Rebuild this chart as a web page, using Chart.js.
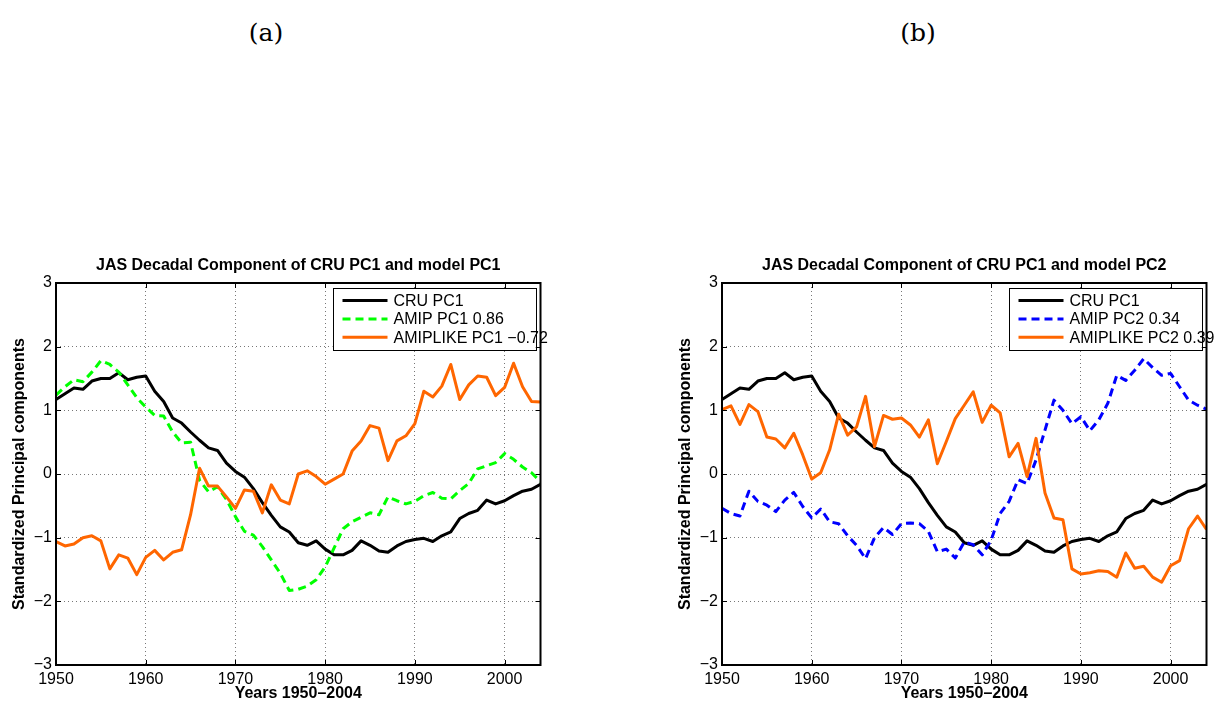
<!DOCTYPE html>
<html>
<head>
<meta charset="utf-8">
<script src="https://cdn.jsdelivr.net/npm/chart.js@4.4.1/dist/chart.umd.min.js"></script>
<style>
  html, body { margin: 0; padding: 0; background: #fff; }
  body { width: 1217px; height: 704px; position: relative; overflow: hidden; }
  .tag { position: absolute; width: 100px; text-align: center; font-family: "DejaVu Serif", "Liberation Serif", serif; font-size: 25px; line-height: 30px; color: #000; }
  canvas { position: absolute; }
</style>
</head>
<body>
<div class="tag" style="left:216px; top:18px;">(a)</div>
<div class="tag" style="left:868px; top:18px;">(b)</div>
<canvas id="panelA" width="600" height="454" style="left:0; top:250px;"></canvas>
<canvas id="panelB" width="552" height="454" style="left:666px; top:250px;"></canvas>
<script>
// JAS decadal components, 1950-2004
const years = [1950, 1951, 1952, 1953, 1954, 1955, 1956, 1957, 1958, 1959,
               1960, 1961, 1962, 1963, 1964, 1965, 1966, 1967, 1968, 1969,
               1970, 1971, 1972, 1973, 1974, 1975, 1976, 1977, 1978, 1979,
               1980, 1981, 1982, 1983, 1984, 1985, 1986, 1987, 1988, 1989,
               1990, 1991, 1992, 1993, 1994, 1995, 1996, 1997, 1998, 1999,
               2000, 2001, 2002, 2003, 2004];

const cruPC1 = [1.17, 1.26, 1.35, 1.33, 1.46, 1.50, 1.50, 1.59, 1.48, 1.52,
                1.54, 1.30, 1.14, 0.88, 0.80, 0.66, 0.53, 0.41, 0.37, 0.17,
                0.04, -0.05, -0.23, -0.45, -0.65, -0.83, -0.91, -1.08, -1.12, -1.05,
                -1.18, -1.27, -1.27, -1.20, -1.05, -1.12, -1.21, -1.23, -1.13, -1.06,
                -1.03, -1.01, -1.06, -0.97, -0.91, -0.70, -0.62, -0.57, -0.41, -0.47,
                -0.42, -0.34, -0.27, -0.24, -0.16];

const amipPC1 = [1.24, 1.37, 1.48, 1.45, 1.60, 1.78, 1.72, 1.60, 1.40, 1.20,
                 1.05, 0.92, 0.91, 0.66, 0.49, 0.50, -0.10, -0.28, -0.20, -0.40,
                 -0.67, -0.90, -0.96, -1.14, -1.35, -1.56, -1.83, -1.81, -1.76, -1.66,
                 -1.46, -1.16, -0.86, -0.75, -0.68, -0.61, -0.64, -0.36, -0.42, -0.47,
                 -0.43, -0.34, -0.29, -0.38, -0.39, -0.26, -0.15, 0.08, 0.13, 0.18,
                 0.32, 0.23, 0.11, 0.02, -0.12];

const amiplikePC1 = [-1.06, -1.13, -1.10, -1.00, -0.97, -1.05, -1.49, -1.27, -1.32, -1.58,
                     -1.31, -1.20, -1.35, -1.23, -1.19, -0.64, 0.09, -0.19, -0.19, -0.36,
                     -0.54, -0.25, -0.27, -0.61, -0.17, -0.41, -0.47, 0.00, 0.05, -0.04,
                     -0.16, -0.08, 0.00, 0.36, 0.52, 0.76, 0.72, 0.21, 0.52, 0.60,
                     0.79, 1.30, 1.21, 1.38, 1.72, 1.17, 1.40, 1.54, 1.52, 1.23,
                     1.36, 1.74, 1.37, 1.14, 1.13];

const amipPC2 = [-0.54, -0.62, -0.66, -0.27, -0.43, -0.49, -0.59, -0.41, -0.29, -0.51,
                 -0.69, -0.55, -0.75, -0.78, -0.97, -1.12, -1.33, -1.00, -0.84, -0.95,
                 -0.78, -0.77, -0.78, -0.90, -1.22, -1.18, -1.32, -1.07, -1.11, -1.27,
                 -1.04, -0.62, -0.43, -0.09, -0.15, 0.22, 0.69, 1.16, 1.00, 0.79,
                 0.90, 0.68, 0.85, 1.11, 1.55, 1.47, 1.63, 1.81, 1.67, 1.55,
                 1.58, 1.37, 1.16, 1.08, 1.02];

const amiplikePC2 = [1.01, 1.07, 0.78, 1.09, 0.98, 0.58, 0.55, 0.41, 0.64, 0.30,
                     -0.08, 0.02, 0.38, 0.94, 0.61, 0.74, 1.22, 0.43, 0.92, 0.86,
                     0.88, 0.77, 0.58, 0.85, 0.16, 0.51, 0.87, 1.08, 1.29, 0.81,
                     1.08, 0.96, 0.27, 0.48, -0.04, 0.56, -0.30, -0.69, -0.72, -1.49,
                     -1.57, -1.55, -1.52, -1.53, -1.62, -1.24, -1.48, -1.45, -1.62, -1.70,
                     -1.44, -1.36, -0.86, -0.66, -0.87];

const xTicks = [1950, 1960, 1970, 1980, 1990, 2000];
const yTicks = [-3, -2, -1, 0, 1, 2, 3];

const FONT = '"Liberation Sans", Arial, Helvetica, sans-serif';
Chart.defaults.font.family = FONT;
Chart.defaults.color = '#000';

const minus = v => (v < 0 ? '\u2212' + Math.abs(v) : String(v));

// Axes box, inward tick marks, panel title and boxed legend (MATLAB style)
const axesDecor = {
  id: 'axesDecor',
  afterDatasetsDraw(chart, args, opts) {
    const { ctx, chartArea: a, scales: { x, y } } = chart;
    ctx.save();
    ctx.strokeStyle = '#000';
    ctx.lineWidth = 1;
    ctx.beginPath();
    x.ticks.forEach(t => {
      const px = Math.round(x.getPixelForValue(t.value)) + 0.5;
      ctx.moveTo(px, a.bottom); ctx.lineTo(px, a.bottom - 5);
      ctx.moveTo(px, a.top); ctx.lineTo(px, a.top + 5);
    });
    y.ticks.forEach(t => {
      const py = Math.round(y.getPixelForValue(t.value)) + 0.5;
      ctx.moveTo(a.left, py); ctx.lineTo(a.left + 5, py);
      ctx.moveTo(a.right, py); ctx.lineTo(a.right - 5, py);
    });
    ctx.stroke();
    ctx.lineWidth = 2;
    ctx.strokeRect(a.left, a.top, a.right - a.left, a.bottom - a.top);

    // title
    ctx.fillStyle = '#000';
    ctx.font = 'bold 16px ' + FONT;
    ctx.textAlign = 'center';
    ctx.textBaseline = 'alphabetic';
    ctx.fillText(opts.title, (a.left + a.right) / 2, a.top - 13.3);

    // legend
    const lw = opts.legendWidth, lh = 62;
    const lx = a.right - 5 - lw, ly = a.top + 5;
    ctx.fillStyle = '#fff';
    ctx.fillRect(lx, ly, lw, lh);
    ctx.lineWidth = 1;
    ctx.strokeStyle = '#000';
    ctx.strokeRect(Math.round(lx) + 0.5, Math.round(ly) + 0.5, lw, lh);
    chart.data.datasets.forEach((ds, i) => {
      const cy = ly + 12.5 + i * 18.4;
      ctx.save();
      ctx.strokeStyle = ds.borderColor;
      ctx.lineWidth = ds.borderWidth;
      ctx.setLineDash(ds.borderDash || []);
      ctx.beginPath();
      ctx.moveTo(lx + 10, cy); ctx.lineTo(lx + 55, cy);
      ctx.stroke();
      ctx.restore();
      ctx.fillStyle = '#000';
      ctx.font = '16px ' + FONT;
      ctx.textAlign = 'left';
      ctx.textBaseline = 'middle';
      ctx.fillText(ds.label, lx + 61, cy + 1);
    });
    ctx.restore();
  }
};

function series(label, values, color, dash, order) {
  return {
    label,
    data: years.map((yr, i) => ({ x: yr, y: values[i] })),
    borderColor: color,
    backgroundColor: color,
    borderWidth: 3,
    borderDash: dash,
    borderJoinStyle: 'round',
    pointRadius: 0,
    tension: 0,
    fill: false,
    order
  };
}

function makePanel(id, datasets, title, legendWidth, rightPad) {
  return new Chart(document.getElementById(id), {
    type: 'line',
    data: { datasets },
    plugins: [axesDecor],
    options: {
      responsive: false,
      animation: false,
      devicePixelRatio: 1,
      events: [],
      layout: { padding: { left: 0, right: rightPad, top: 33, bottom: 0 } },
      plugins: {
        legend: { display: false },
        tooltip: { enabled: false },
        axesDecor: { title, legendWidth }
      },
      scales: {
        x: {
          type: 'linear',
          min: 1950,
          max: 2004,
          afterBuildTicks: s => { s.ticks = xTicks.map(v => ({ value: v })); },
          afterFit: s => { s.height = 39; },
          grid: { color: '#777', lineWidth: 1, drawTicks: false },
          border: { display: false, dash: [1, 3] },
          ticks: { padding: 5, autoSkip: false, maxRotation: 0, font: { size: 16 }, color: '#000',
                   callback: v => String(v) },
          title: { display: true, text: 'Years 1950\u20132004', color: '#000',
                   font: { size: 16, weight: 'bold' }, padding: { top: 0, bottom: 1 } }
        },
        y: {
          type: 'linear',
          min: -3,
          max: 3,
          afterBuildTicks: s => { s.ticks = yTicks.map(v => ({ value: v })); },
          afterFit: s => { s.width = 56; },
          grid: { color: '#777', lineWidth: 1, drawTicks: false },
          border: { display: false, dash: [1, 3] },
          ticks: { padding: 4, font: { size: 16 }, color: '#000', callback: v => minus(v) },
          title: { display: true, text: 'Standardized Principal components', color: '#000',
                   font: { size: 16, weight: 'bold' }, padding: { top: 10, bottom: 0 } }
        }
      }
    }
  });
}

makePanel('panelA', [
  series('CRU PC1', cruPC1, '#000000', [], 2),
  series('AMIP PC1 0.86', amipPC1, '#00ff00', [8, 5], 1),
  series('AMIPLIKE PC1 \u22120.72', amiplikePC1, '#ff6600', [], 0)
], 'JAS Decadal Component of CRU PC1 and model PC1', 203, 59.5);

makePanel('panelB', [
  series('CRU PC1', cruPC1, '#000000', [], 2),
  series('AMIP PC2 0.34', amipPC2, '#0000ff', [8, 5], 1),
  series('AMIPLIKE PC2 0.39', amiplikePC2, '#ff6600', [], 0)
], 'JAS Decadal Component of CRU PC1 and model PC2', 193, 11.5);
</script>
</body>
</html>
